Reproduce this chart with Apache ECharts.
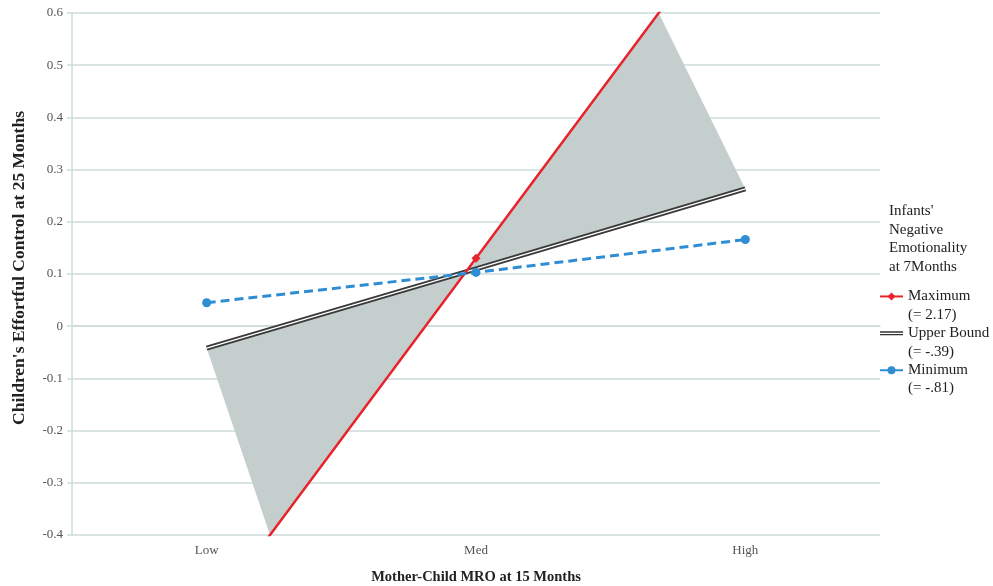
<!DOCTYPE html>
<html>
<head>
<meta charset="utf-8">
<script src="https://cdn.jsdelivr.net/npm/echarts@6/dist/echarts.min.js"></script>
<style>
  html, body { margin: 0; padding: 0; background: #fff; }
  #chart { width: 993px; height: 586px; }
</style>
</head>
<body>
<div id="chart"></div>
<script>
// Simple slopes of effortful control on mother-child MRO
const categories = ['Low', 'Med', 'High'];
const maximumValues = [-0.563, 0.13, 0.823];
const upperBoundValues = [-0.042, 0.11, 0.263];
const minimumValues = [0.045, 0.103, 0.166];
const legendNames = ['Maximum', 'Upper Bound', 'Minimum'];
const legendValues = ['(= 2.17)', '(= -.39)', '(= -.81)'];
const legendTitle = "Infants'\nNegative\nEmotionality\nat 7Months";
const yMin = -0.4, yMax = 0.6, yStep = 0.1;

// Where a polyline crosses a given level, as a fractional category index
function crossing(values, level) {
  for (let i = 0; i < values.length - 1; i++) {
    const a = values[i], b = values[i + 1];
    if (a !== b && (a - level) * (b - level) <= 0) return i + (level - a) / (b - a);
  }
  return null;
}

// Shaded region between the maximum slope and the upper bound, cut at the axis range
const last = categories.length - 1;
const shadePolygon = [
  [0, upperBoundValues[0]],
  [crossing(maximumValues, yMin), yMin],
  [crossing(maximumValues, yMax), yMax],
  [last, upperBoundValues[last]]
];

const serif = 'Liberation Serif';
const gridColor = '#cddbdb';

const chart = echarts.init(document.getElementById('chart'), null, { renderer: 'canvas' });
chart.setOption({
  animation: false,
  backgroundColor: '#fff',
  title: {
    text: legendTitle,
    left: 889,
    top: 202,
    padding: 0,
    textStyle: { fontFamily: serif, fontSize: 15, fontWeight: 'normal', color: '#222', lineHeight: 18.5 }
  },
  legend: {
    orient: 'vertical',
    left: 879,
    top: 269,
    padding: 0,
    selectedMode: false,
    itemWidth: 23,
    itemHeight: 10,
    itemGap: -18,
    data: [
      { name: 'Maximum' },
      { name: 'Upper Bound', icon: 'path://M0,0 M0,2.4H30V4.2H0Z M0,5.8H30V7.6H0Z M30,10' },
      { name: 'Minimum' }
    ],
    // blank first line keeps the swatch beside the series name
    formatter: function (name) {
      return '\n' + name + '\n' + legendValues[legendNames.indexOf(name)];
    },
    textStyle: { fontFamily: serif, fontSize: 15, color: '#222', lineHeight: 18.3 }
  },
  grid: { left: 72, right: 113, top: 13, bottom: 51, containLabel: false, outerBoundsMode: 'none' },
  xAxis: [
    {
      type: 'category',
      data: categories,
      boundaryGap: true,
      name: 'Mother-Child MRO at 15 Months',
      nameLocation: 'middle',
      nameGap: 35,
      nameTextStyle: { fontFamily: serif, fontSize: 14.5, fontWeight: 'bold', color: '#222' },
      axisLine: { show: true, lineStyle: { color: gridColor, width: 1.5 } },
      axisTick: { show: false },
      axisLabel: { fontFamily: serif, fontSize: 13, color: '#555', margin: 9 },
      splitLine: { show: false }
    },
    { type: 'value', min: -0.5, max: 2.5, show: false }
  ],
  yAxis: {
    type: 'value',
    min: yMin,
    max: yMax,
    interval: yStep,
    name: "Children's Effortful Control at 25 Months",
    nameLocation: 'middle',
    nameGap: 44,
    nameTextStyle: { fontFamily: serif, fontSize: 17.5, fontWeight: 'bold', color: '#222', padding: [0, 0, 0, 12] },
    axisLine: { show: true, onZero: false, lineStyle: { color: gridColor, width: 1.5 } },
    axisTick: { show: true, length: 5, lineStyle: { color: gridColor, width: 1.5 } },
    axisLabel: { fontFamily: serif, fontSize: 13, color: '#555', margin: 9 },
    splitLine: { show: true, lineStyle: { color: gridColor, width: 1.5 } }
  },
  series: [
    {
      type: 'custom',
      name: 'Region',
      xAxisIndex: 1,
      yAxisIndex: 0,
      silent: true,
      z: 1,
      data: [[1, 0.1]],
      renderItem: function (params, api) {
        return {
          type: 'polygon',
          shape: { points: shadePolygon.map(function (p) { return api.coord(p); }) },
          style: { fill: '#c4cecd' }
        };
      }
    },
    {
      type: 'line',
      name: 'Upper Bound',
      data: upperBoundValues,
      symbol: 'none',
      z: 3,
      itemStyle: { color: '#333333' },
      lineStyle: { color: '#3a3a3a', width: 5 }
    },
    {
      type: 'line',
      name: 'Upper Bound gap',
      data: upperBoundValues,
      symbol: 'none',
      silent: true,
      z: 4,
      lineStyle: { color: '#ffffff', width: 1.3 }
    },
    {
      type: 'line',
      name: 'Maximum',
      data: maximumValues,
      symbol: 'diamond',
      symbolSize: 9,
      clip: true,
      z: 5,
      itemStyle: { color: '#e8232b' },
      lineStyle: { color: '#e8232b', width: 2.5 }
    },
    {
      type: 'line',
      name: 'Minimum',
      data: minimumValues,
      symbol: 'circle',
      symbolSize: 9,
      z: 6,
      itemStyle: { color: '#2f8dd3' },
      lineStyle: { color: '#2f8dd3', width: 3, type: [9, 5] }
    }
  ]
});
</script>
</body>
</html>
